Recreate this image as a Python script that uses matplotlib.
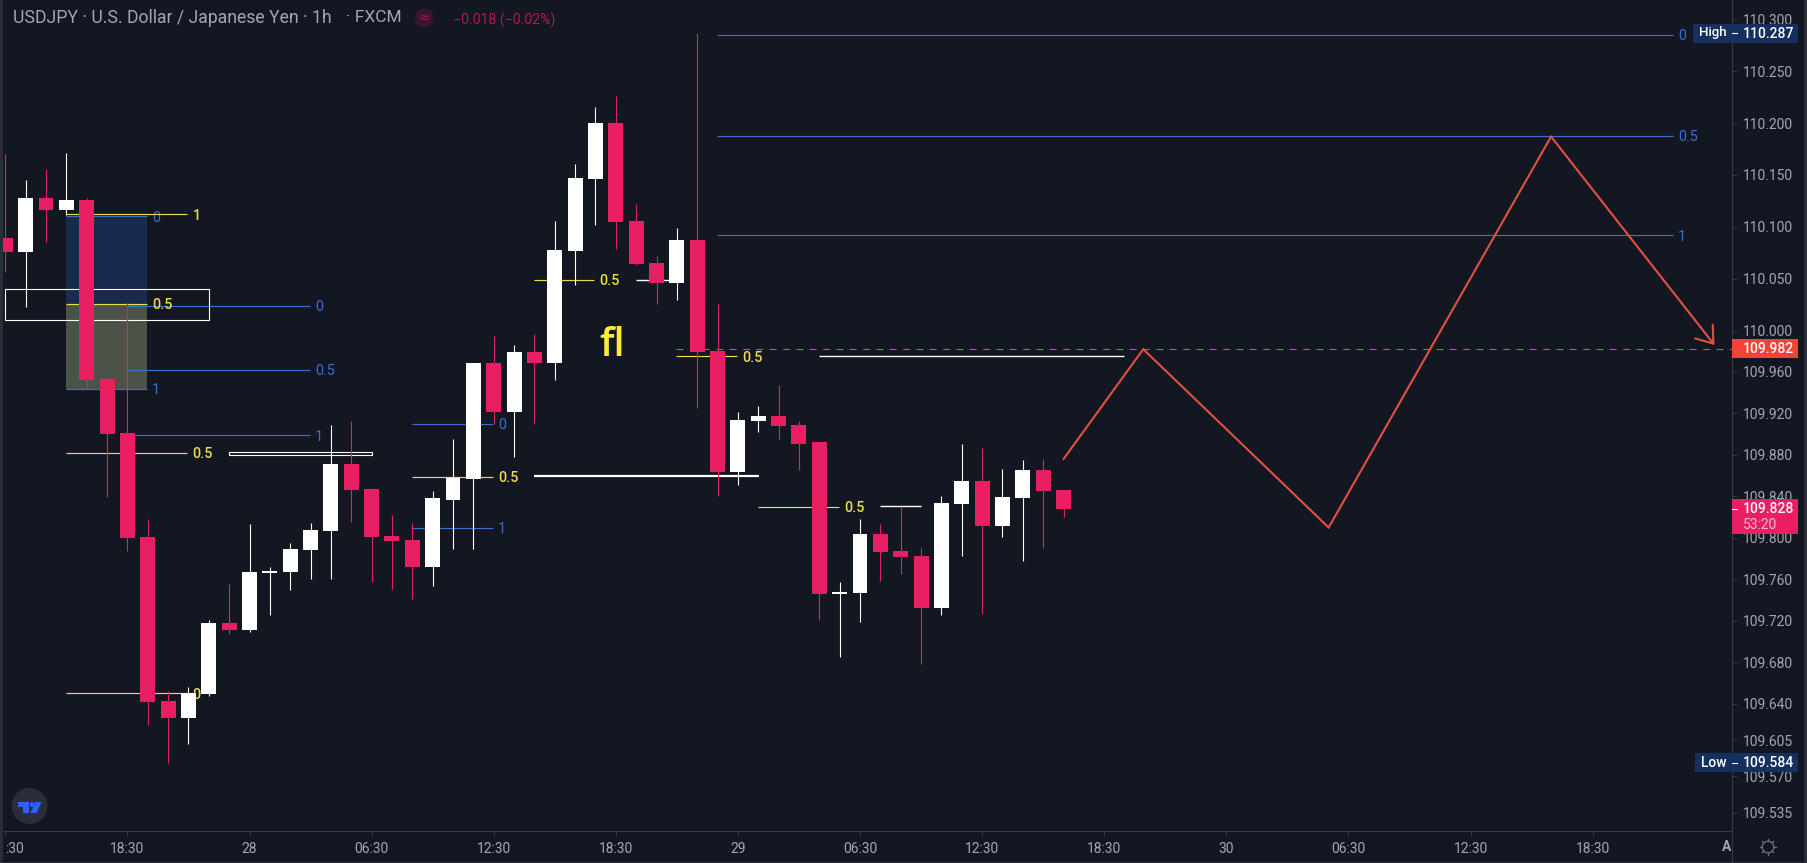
import matplotlib
matplotlib.use("Agg")
import matplotlib.pyplot as plt
from matplotlib.patches import Rectangle, Polygon, Circle, Ellipse

plt.rcParams['font.family'] = ['Roboto', 'DejaVu Sans']

# ---------- data ----------
first_bar = -6
opens = [110.089,110.076,110.128,110.116,110.126,109.953,109.901,109.801,109.643,109.626,109.649,109.718,109.711,109.766,109.767,109.788,109.807,109.871,109.847,109.802,109.798,109.772,109.837,109.857,109.969,109.921,109.979,109.969,110.077,110.146,110.200,110.106,110.065,110.046,110.087,109.980,109.864,109.913,109.918,109.909,109.892,109.746,109.747,109.804,109.787,109.783,109.732,109.833,109.855,109.811,109.838,109.865,109.846]
highs = [110.170,110.145,110.156,110.171,110.128,109.953,110.027,109.818,109.652,109.656,109.721,109.756,109.813,109.772,109.795,109.814,109.909,109.913,109.848,109.822,109.814,109.845,109.895,109.969,109.995,109.986,109.997,110.106,110.161,110.216,110.226,110.122,110.072,110.099,110.287,110.026,109.921,109.927,109.947,109.913,109.892,109.757,109.818,109.813,109.830,109.790,109.840,109.891,109.887,109.866,109.875,109.876,109.846]
lows = [110.056,110.023,110.085,110.111,109.945,109.839,109.787,109.620,109.583,109.601,109.648,109.707,109.709,109.726,109.750,109.760,109.760,109.815,109.757,109.751,109.741,109.754,109.789,109.789,109.910,109.878,109.910,109.952,110.044,110.102,110.079,110.063,110.026,110.029,109.925,109.840,109.851,109.902,109.895,109.865,109.721,109.685,109.719,109.758,109.765,109.678,109.726,109.783,109.727,109.801,109.778,109.790,109.820]
closes = [110.076,110.128,110.116,110.126,109.952,109.900,109.800,109.642,109.626,109.650,109.718,109.711,109.767,109.768,109.789,109.808,109.871,109.846,109.801,109.797,109.772,109.838,109.858,109.969,109.921,109.979,109.969,110.078,110.147,110.200,110.105,110.064,110.046,110.087,109.979,109.864,109.914,109.918,109.908,109.891,109.746,109.748,109.804,109.786,109.782,109.732,109.834,109.855,109.811,109.839,109.865,109.845,109.828]

price_ticks = [110.300,110.250,110.200,110.150,110.100,110.050,110.000,109.960,109.920,109.880,109.840,109.800,109.760,109.720,109.680,109.640,109.605,109.570,109.535]
time_ticks = [-6,0,6,12,18,24,30,36,42,48,54,60,66,72]
time_labels = [":30","18:30","28","06:30","12:30","18:30","29","06:30","12:30","18:30","30","06:30","12:30","18:30"]

# fib levels: bar start, bar end, price, label
yellow_levels = [(-3.03,2.95,110.112,"1"),(-3.03,2.95,109.882,"0.5"),(-3.03,2.95,109.650,"0"),
                 (-3.03,0.96,110.026,"0.5"),(13.98,17.97,109.859,"0.5"),(19.97,22.95,110.049,"0.5"),
                 (26.96,29.97,109.975,"0.5"),(30.97,34.97,109.830,"0.5")]
blue_levels = [(-3.03,0.96,110.110,"0"),(-3.03,0.96,109.944,"1"),
               (0,8.97,110.024,"0"),(0,8.97,109.962,"0.5"),(0,8.97,109.899,"1"),
               (13.98,17.97,109.910,"0"),(13.98,17.97,109.810,"1"),
               (28.97,75.94,110.285,"0"),(28.97,75.94,110.188,"0.5"),(28.97,75.94,110.092,"1")]
white_lines = [(24.97,26.61,110.049,1.0),(34.0,48.95,109.975,1.0),(36.98,38.98,109.831,1.0),(19.98,31.05,109.860,1.6)]
zone_bars = (-3.03,0.96)
zone_prices = (110.110,110.026,109.944)
box_a = (-6.0,3.99,110.010,110.040)
box_b = (4.97,12.0,109.880,109.883)
path_bars = [46.0,49.92,59.03,69.96]
path_prices = [109.876,109.982,109.810,110.187]
arrow_end = (77.99,109.986)
last_target = 109.982
target_start = 26.96
note_pos = (23.2,109.985)

BG = '#131722'
RED = '#e91e63'
WHITE = '#ffffff'
BLUE = '#3a70cc'
YELLOW = '#ecdc4a'
TEXT = '#a3a6af'
EDGE = '#2a2e39'
W, H = 1807, 863

fig = plt.figure(figsize=(W/100, H/100), dpi=100, facecolor=BG)
L, R, B = 3, 1732, 831
ax = fig.add_axes([L/W, 1-B/H, (R-L)/W, B/H], facecolor=BG)
ax.set_xlim((L-127.4)/20.35, (R-127.4)/20.35)
ax.set_ylim(110-(B-330.5)/1037, 110+330.5/1037)

# drawings below candles
ax.add_patch(Rectangle((zone_bars[0], zone_prices[1]), zone_bars[1]-zone_bars[0], zone_prices[0]-zone_prices[1], fc='#1a2a4e', ec='none', zorder=1))
ax.add_patch(Rectangle((zone_bars[0], zone_prices[2]), zone_bars[1]-zone_bars[0], zone_prices[1]-zone_prices[2], fc='#4b5349', ec='none', zorder=1))
for levels, col, lw in ((blue_levels, BLUE, 0.85), (yellow_levels, YELLOW, 0.85)):
    for x0, x1, p, lab in levels:
        ax.plot([x0, x1], [p, p], color=col, lw=lw, zorder=2, solid_capstyle='butt')
        ax.annotate(lab, (x1, p), xytext=(3.6, 0), textcoords='offset points', color=col,
                    fontsize=10.3, va='center_baseline', ha='left', zorder=2,
                    fontweight='medium' if col == YELLOW else 'normal')
for x0, x1, p, lw in white_lines:
    ax.plot([x0, x1], [p, p], color=WHITE, lw=lw, zorder=2, solid_capstyle='butt')
for x0, x1, p0, p1 in (box_a, box_b):
    ax.add_patch(Rectangle((x0, p0), x1-x0, p1-p0, fc='none', ec=WHITE, lw=0.8, zorder=2))
ax.plot([target_start, ax.get_xlim()[1]], [last_target]*2, color='#c9594f', lw=0.8, dashes=(6, 6), zorder=2)
ax.text(note_pos[0], note_pos[1], "fl", color='#ffe93b', fontsize=29, family='Open Sans', fontweight='semibold',
        ha='left', va='center', zorder=2)

# candles
xs = [first_bar+i for i in range(len(opens))]
cols = [WHITE if c >= o else RED for o, c in zip(opens, closes)]
ax.vlines(xs, lows, highs, colors=cols, lw=0.8, zorder=3)
ax.bar(xs, [abs(c-o) for o, c in zip(opens, closes)], bottom=[min(o, c) for o, c in zip(opens, closes)],
       width=0.737, color=cols, lw=0, zorder=4)

# projected path
ax.plot(path_bars, path_prices, color='#e2513f', lw=1.5, zorder=5, solid_capstyle='round', solid_joinstyle='miter')
ax.annotate('', xy=arrow_end, xytext=(path_bars[-1], path_prices[-1]),
            arrowprops=dict(arrowstyle='->,head_length=11,head_width=8', mutation_scale=1, lw=1.5,
                            color='#e2513f', shrinkA=0, shrinkB=0), zorder=5)

# axes
for s in ('top', 'left'):
    ax.spines[s].set_visible(False)
for s in ('right', 'bottom'):
    ax.spines[s].set_color('#363a45')
    ax.spines[s].set_linewidth(0.8)
ax.yaxis.tick_right()
ax.set_yticks(price_ticks, [f"{p:.3f}" for p in price_ticks])
ax.set_xticks(time_ticks, time_labels)
ax.tick_params(axis='y', length=3.6, width=0.7, color='#363a45', labelcolor=TEXT, labelsize=10, pad=4.5)
ax.tick_params(axis='x', length=3.6, width=0.7, color='#363a45', labelcolor=TEXT, labelsize=10, pad=4.5)
ax.get_xticklabels()[0].set_ha('left')

# overlay chrome in pixels
ov = fig.add_axes([0, 0, 1, 1], facecolor='none')
ov.set_xlim(0, W); ov.set_ylim(H, 0); ov.axis('off')
ov.add_patch(Rectangle((0, 0), 3, H, fc=EDGE, ec='none'))
ov.add_patch(Rectangle((1804, 0), 3, H, fc=EDGE, ec='none'))
ov.add_patch(Rectangle((0, 862), W, 1, fc=EDGE, ec='none'))
ov.axvline(1732, ymax=1-831/H, color='#363a45', lw=0.8)

ov.text(13.4, 18, "USDJPY · U.S. Dollar / Japanese Yen · 1h", color=TEXT, fontsize=12.7, va='center', ha='left')
ov.text(346, 18, "· FXCM", color=TEXT, fontsize=12.5, va='center', ha='left')
ov.add_patch(Circle((424, 18), 9.5, fc='#3b1430', ec='none'))
ov.text(424, 18, "≈", color='#a01a4c', fontsize=10, va='center', ha='center', family='DejaVu Sans')
ov.text(452.7, 20, "−0.018 (−0.02%)", color='#b3174f', fontsize=10.2, va='center', ha='left')

def tag(x0, x1, y0, y1, fc):
    ov.add_patch(Rectangle((x0, y0), x1-x0, y1-y0, fc=fc, ec='none'))

tag(1693, 1798, 24, 42.7, '#15305f')
ov.text(1698.7, 32.5, "High", color='#ffffff', fontsize=9.5, va='center', ha='left', fontweight='medium')
ov.plot([1732, 1737], [33.5, 33.5], color='#ffffff', lw=0.8)
ov.text(1743.3, 33.5, "110.287", color='#ffffff', fontsize=10, va='center', ha='left', fontweight='medium')
tag(1695, 1798, 753, 772, '#15305f')
ov.text(1700.7, 762.5, "Low", color='#ffffff', fontsize=10, va='center', ha='left', fontweight='medium')
ov.plot([1732, 1737], [762.5, 762.5], color='#ffffff', lw=0.8)
ov.text(1743.3, 762.5, "109.584", color='#ffffff', fontsize=10, va='center', ha='left', fontweight='medium')
tag(1732, 1798, 339, 358, '#f44336')
ov.text(1743.3, 348.7, "109.982", color='#ffffff', fontsize=10, va='center', ha='left', fontweight='medium')
tag(1732, 1798, 499, 533.7, RED)
ov.plot([1732, 1737], [508.5, 508.5], color='#ffffff', lw=0.8)
ov.text(1743.3, 509, "109.828", color='#ffffff', fontsize=10, va='center', ha='left', fontweight='medium')
ov.text(1743.3, 525, "53:20", color='#f8bbd0', fontsize=10, va='center', ha='left')

ov.text(1727, 847, "A", color=TEXT, fontsize=10, va='center', ha='center', fontweight='bold')
ov.add_patch(Circle((1768, 847), 5.8, fc='none', ec='#6f727c', lw=0.9))
for dx, dy in ((0, 1), (1, 0), (0, -1), (-1, 0), (.7, .7), (.7, -.7), (-.7, .7), (-.7, -.7)):
    ov.plot([1768+dx*5.8, 1768+dx*8], [847+dy*5.8, 847+dy*8], color='#6f727c', lw=0.9)

ov.add_patch(Ellipse((29.5, 806), 36, 36, fc='#2a2e39', ec='none'))
ov.add_patch(Polygon([(18, 802), (29, 802), (29, 813), (23.5, 813), (23.5, 807), (18, 807)], fc='#2962ff', ec='none'))
ov.add_patch(Circle((32.3, 804.5), 2.5, fc='#2962ff', ec='none'))
ov.add_patch(Polygon([(41.5, 802), (36.5, 813), (30.5, 813), (35.5, 802)], fc='#2962ff', ec='none'))

fig.savefig('out.png', dpi=100, facecolor=BG)
